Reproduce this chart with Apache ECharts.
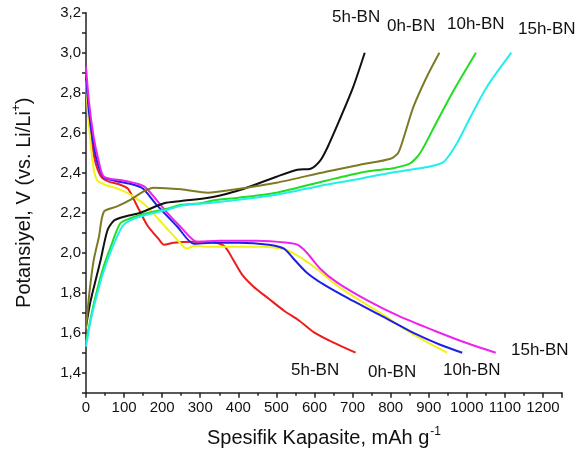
<!DOCTYPE html>
<html>
<head>
<meta charset="utf-8">
<script src="https://cdn.jsdelivr.net/npm/echarts@6/dist/echarts.min.js"></script>
<style>
  html, body { margin: 0; padding: 0; background: #fff; }
  #chart { width: 576px; height: 459px; }
</style>
</head>
<body>
<div id="chart"></div>
<script>
// Charge / discharge profiles: [specific capacity (mAh/g), potential (V)]
const discharge5h = [[0,2.88],[8,2.70],[15,2.56],[25,2.45],[40,2.38],[60,2.355],[90,2.34],[110,2.32],[130,2.25],[160,2.14],[190,2.07],[205,2.04],[230,2.05],[280,2.055],[340,2.05],[365,2.03],[385,1.97],[410,1.89],[440,1.83],[480,1.77],[520,1.71],[560,1.66],[600,1.60],[650,1.55],[708,1.50]];
const discharge0h = [[0,2.86],[5,2.70],[12,2.55],[20,2.42],[30,2.36],[50,2.34],[90,2.315],[125,2.28],[160,2.23],[213,2.12],[248,2.047],[264,2.02],[283,2.033],[330,2.03],[460,2.03],[520,2.017],[560,1.98],[605,1.92],[650,1.85],[695,1.79],[780,1.69],[860,1.59],[948,1.50]];
const discharge10h = [[0,2.88],[8,2.70],[18,2.56],[30,2.45],[45,2.38],[75,2.36],[125,2.34],[150,2.32],[185,2.24],[240,2.13],[283,2.045],[330,2.05],[400,2.05],[480,2.04],[520,2.02],[545,1.97],[580,1.90],[625,1.84],[690,1.77],[780,1.68],[870,1.59],[930,1.54],[988,1.50]];
const discharge15h = [[0,2.93],[8,2.75],[20,2.58],[32,2.47],[47,2.38],[100,2.36],[143,2.34],[160,2.32],[213,2.20],[248,2.13],[292,2.055],[350,2.06],[450,2.06],[530,2.05],[555,2.04],[580,2.00],[615,1.92],[660,1.85],[740,1.76],[825,1.68],[915,1.61],[990,1.555],[1076,1.50]];

const charge5h = [[0,1.63],[10,1.74],[21,1.83],[38,1.96],[56,2.11],[73,2.16],[100,2.18],[143,2.20],[205,2.247],[250,2.258],[330,2.277],[415,2.32],[500,2.38],[555,2.415],[590,2.42],[615,2.46],[635,2.53],[665,2.66],[700,2.82],[732,3.00]];
const charge0h = [[0,1.62],[9,1.80],[20,1.96],[34,2.08],[47,2.205],[80,2.23],[115,2.263],[150,2.305],[178,2.325],[250,2.317],[320,2.30],[380,2.313],[500,2.35],[630,2.405],[720,2.44],[800,2.47],[820,2.50],[835,2.58],[860,2.73],[895,2.88],[928,3.00]];
const charge10h = [[0,1.55],[10,1.65],[21,1.75],[43,1.91],[65,2.03],[90,2.147],[117,2.172],[160,2.197],[213,2.22],[250,2.24],[300,2.247],[330,2.26],[400,2.275],[500,2.30],[630,2.36],[720,2.40],[775,2.415],[800,2.42],[850,2.445],[878,2.50],[920,2.65],[965,2.81],[1024,3.00]];
const charge15h = [[0,1.53],[10,1.64],[22,1.74],[45,1.90],[68,2.02],[95,2.13],[120,2.165],[160,2.19],[213,2.215],[250,2.235],[300,2.245],[330,2.25],[400,2.265],[500,2.29],[630,2.34],[720,2.37],[800,2.40],[835,2.41],[900,2.43],[940,2.455],[975,2.55],[1010,2.68],[1053,2.83],[1117,3.00]];

const sampleNames = ['5h-BN', '0h-BN', '10h-BN', '15h-BN'];

const chargeColors = ['#111111', '#7d7a26', '#22dd22', '#22eeee'];
const dischargeColors = ['#ee1c1c', '#f2f21a', '#1f1fe6', '#ee22ee'];

const chargeData = [charge5h, charge0h, charge10h, charge15h];
const dischargeData = [discharge5h, discharge0h, discharge10h, discharge15h];

function lineSeries(name, data, color) {
  return {
    name: name,
    type: 'line',
    data: data,
    smooth: 0.25,
    showSymbol: false,
    lineStyle: { color: color, width: 2 },
    itemStyle: { color: color },
    animation: false,
    z: 3
  };
}

const series = [];
dischargeData.forEach((d, i) => series.push(lineSeries(sampleNames[i] + ' discharge', d, dischargeColors[i])));
chargeData.forEach((d, i) => series.push(lineSeries(sampleNames[i] + ' charge', d, chargeColors[i])));

const labelFont = '17px "Liberation Sans", Arial, sans-serif';
const tickFont = '"Liberation Sans Narrow", "Liberation Sans", Arial, sans-serif';

// Sample labels next to the curve ends
const topLabelPos = [[332, 9], [387, 17.5], [447, 15.5], [518, 20.5]];
const bottomLabelPos = [[291, 361.5], [368, 364], [443, 362], [511, 342]];
const graphics = [];
sampleNames.forEach((n, i) => {
  graphics.push({ type: 'text', left: topLabelPos[i][0], top: topLabelPos[i][1],
    style: { text: n, font: labelFont, fill: '#111' } });
  graphics.push({ type: 'text', left: bottomLabelPos[i][0], top: bottomLabelPos[i][1],
    style: { text: n, font: labelFont, fill: '#111' } });
});

const chart = echarts.init(document.getElementById('chart'), null, { renderer: 'canvas' });
chart.setOption({
  backgroundColor: '#fff',
  animation: false,
  grid: { left: 86, right: 14, top: 12.7, bottom: 66.3, containLabel: false },
  xAxis: {
    type: 'value',
    min: 0, max: 1250, interval: 100,
    name: '{t|Spesifik Kapasite, mAh g}{s|-1}',
    nameLocation: 'middle',
    nameGap: 34,
    nameTextStyle: {
      rich: {
        t: { fontSize: 20, fontFamily: 'Liberation Sans', color: '#111', lineHeight: 24 },
        s: { fontSize: 12, fontFamily: 'Liberation Sans', color: '#111', lineHeight: 24, padding: [0, 0, 14, 1] }
      }
    },
    splitLine: { show: false },
    axisLine: { onZero: false, lineStyle: { color: '#222', width: 1.5 } },
    axisTick: { inside: false, length: 5, lineStyle: { color: '#222', width: 1.5 } },
    minorTick: { show: true, splitNumber: 2, length: 3, lineStyle: { color: '#222', width: 1.5 } },
    axisLabel: {
      showMaxLabel: false,
      margin: 8,
      fontSize: 15, fontFamily: tickFont, color: '#111',
      formatter: v => (Math.round(v) % 100 === 0 ? String(Math.round(v)) : '')
    }
  },
  yAxis: {
    type: 'value',
    min: 1.3, max: 3.2, interval: 0.1,
    name: '{t|Potansiyel, V (vs. Li/Li}{s|+}{t|)}',
    nameLocation: 'middle',
    nameGap: 50,
    nameTextStyle: {
      rich: {
        t: { fontSize: 20, fontFamily: 'Liberation Sans', color: '#111', lineHeight: 24 },
        s: { fontSize: 12, fontFamily: 'Liberation Sans', color: '#111', lineHeight: 24, padding: [0, 0, 14, 0] }
      }
    },
    splitLine: { show: false },
    axisLine: { show: true, onZero: false, lineStyle: { color: '#222', width: 1.5 } },
    axisTick: { show: true, inside: false, length: 4, lineStyle: { color: '#222', width: 1.5 } },
    axisLabel: {
      margin: 5,
      fontSize: 15, fontFamily: tickFont, color: '#111',
      formatter: v => {
        const k = Math.round(v * 10);
        return k % 2 === 0 ? (k / 10).toFixed(1).replace('.', ',') : '';
      }
    }
  },
  series: series,
  graphic: graphics
});
</script>
</body>
</html>
